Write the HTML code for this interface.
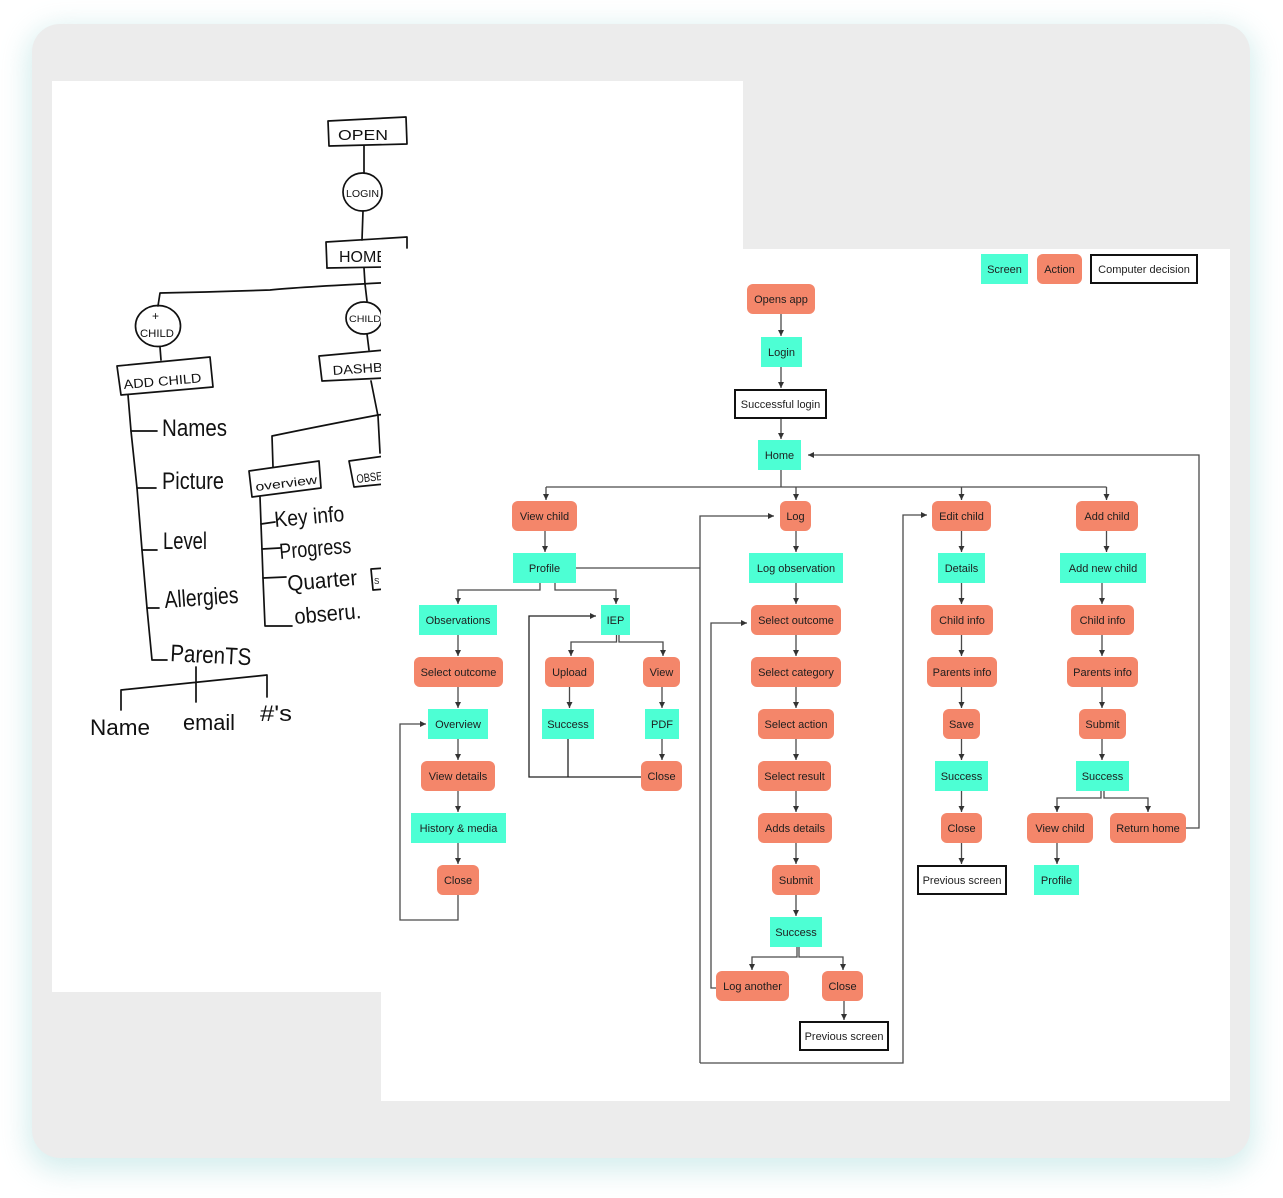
<!DOCTYPE html>
<html><head><meta charset="utf-8"><style>
html,body{margin:0;padding:0;background:#fff;width:1283px;height:1198px;overflow:hidden}
#card{position:absolute;left:32px;top:24px;width:1218px;height:1134px;background:#ececec;border-radius:28px;box-shadow:0 8px 28px 4px rgba(120,200,200,0.33)}
svg{position:absolute;left:0;top:0}
.n{font-family:"Liberation Sans",sans-serif;font-size:11px;fill:#1e1e1e;text-anchor:middle}
.h{font-family:"Liberation Sans",sans-serif;fill:#111}
.sk{stroke:#111;stroke-width:1.7;fill:none;stroke-linecap:round;stroke-linejoin:round}
.c{stroke:#4a4a4a;stroke-width:1.3;fill:none}
.s{fill:#4dffd4}
.a{fill:#f4866a}
.d{fill:#fff;stroke:#111;stroke-width:2}
</style></head><body>
<div id="card"></div>
<svg width="1283" height="1198" viewBox="0 0 1283 1198">
<defs>
<marker id="ar" markerWidth="6" markerHeight="6" refX="6" refY="3" orient="auto" markerUnits="userSpaceOnUse">
<path d="M0,0 L6,3 L0,6 z" fill="#333"/></marker>
</defs>
<!-- sketch paper -->
<rect x="52" y="81" width="691" height="911" fill="#fff"/>
<g class="sk">
<polygon points="328,121 406,117 407,144 329,146"/>
<line x1="364" y1="146" x2="364" y2="173"/>
<ellipse cx="362.5" cy="192" rx="19.5" ry="19"/>
<line x1="363" y1="211" x2="362" y2="240"/>
<path d="M327,268 L326,242 L407,237 L407,248"/>
<path d="M327,268 L385,267"/>
<path d="M364,268 L365,284 L367,301"/>
<path d="M400,282 Q300,287 270,290 Q210,292 160,293 L158,306"/>
<ellipse cx="364" cy="318" rx="18" ry="16"/>
<ellipse cx="158" cy="326" rx="22.5" ry="20.5"/>
<line x1="160" y1="347" x2="161" y2="360"/>
<polygon points="117,366 210,357 213,387 121,395"/>
<line x1="367" y1="334" x2="369" y2="350"/>
<path d="M385,350 L319,356 L322,381 L385,378"/>
<path d="M371,381 L378,416 L380,453"/>
<path d="M395,413 L378,415 Q320,426 272,436 L273,467"/>
<polygon points="249,471 319,461 321,488 252,497"/>
<path d="M385,456 L349,461 L354,487 L385,484"/>
<path d="M260,497 L261,524 L262,550 L263,578 L265,626 L292,626"/>
<path d="M261,524 L275,522 M262,549 L280,548 M263,578 L286,577"/>
<path d="M385,568 L371,569 L373,590 L385,589"/>
<path d="M128,395 L131,431 L137,488 L142,550 L147,608 L152,660 L167,660"/>
<path d="M131,431 L157,431 M137,488 L156,488 M142,550 L157,550 M147,608 L159,608"/>
<path d="M196,667 L196,702 M121,710 L121,690 L267,675 L267,697"/>
</g>
<g class="h">
<text x="338" y="140" font-size="15" textLength="50" lengthAdjust="spacingAndGlyphs">OPEN</text>
<text x="346" y="197" font-size="10" textLength="33" lengthAdjust="spacingAndGlyphs">LOGIN</text>
<text x="339" y="262" font-size="16" textLength="48" lengthAdjust="spacingAndGlyphs">HOME</text>
<text x="349" y="322" font-size="9" textLength="32" lengthAdjust="spacingAndGlyphs">CHILD</text>
<text x="152" y="320" font-size="12">+</text>
<text x="140" y="337" font-size="11" textLength="34" lengthAdjust="spacingAndGlyphs">CHILD</text>
<text x="124" y="389" font-size="13" textLength="78" lengthAdjust="spacingAndGlyphs" transform="rotate(-5 124 389)">ADD CHILD</text>
<text x="333" y="375" font-size="13" textLength="50" lengthAdjust="spacingAndGlyphs" transform="rotate(-4 333 375)">DASHB</text>
<text x="256" y="491" font-size="12" textLength="62" lengthAdjust="spacingAndGlyphs" transform="rotate(-7 256 491)">overview</text>
<text x="357" y="483" font-size="12" textLength="26" lengthAdjust="spacingAndGlyphs" transform="rotate(-7 357 483)">OBSE</text>
<text x="275" y="527" font-size="22" textLength="70" lengthAdjust="spacingAndGlyphs" transform="rotate(-5 275 527)">Key info</text>
<text x="280" y="559" font-size="22" textLength="72" lengthAdjust="spacingAndGlyphs" transform="rotate(-5 280 559)">Progress</text>
<text x="288" y="591" font-size="22" textLength="70" lengthAdjust="spacingAndGlyphs" transform="rotate(-5 288 591)">Quarter</text>
<text x="374" y="584" font-size="8">S</text>
<text x="295" y="624" font-size="22" textLength="67" lengthAdjust="spacingAndGlyphs" transform="rotate(-5 295 624)">obseru.</text>
<text x="162" y="436" font-size="24" textLength="65" lengthAdjust="spacingAndGlyphs">Names</text>
<text x="162" y="489" font-size="24" textLength="62" lengthAdjust="spacingAndGlyphs">Picture</text>
<text x="163" y="549" font-size="24" textLength="44" lengthAdjust="spacingAndGlyphs">Level</text>
<text x="165" y="608" font-size="24" textLength="74" lengthAdjust="spacingAndGlyphs" transform="rotate(-4 165 608)">Allergies</text>
<text x="170" y="661" font-size="24" textLength="81" lengthAdjust="spacingAndGlyphs" transform="rotate(3 170 661)">ParenTS</text>
<text x="90" y="735" font-size="22" textLength="60" lengthAdjust="spacingAndGlyphs">Name</text>
<text x="183" y="730" font-size="22" textLength="52" lengthAdjust="spacingAndGlyphs">email</text>
<text x="260" y="721" font-size="22" textLength="32" lengthAdjust="spacingAndGlyphs">#'s</text>
</g>

<!-- flow panel -->
<rect x="381" y="249" width="849" height="852" fill="#fff"/>

<!-- connectors -->
<g class="c">
<path d="M781,314 V336" marker-end="url(#ar)"/>
<path d="M781,367 V388" marker-end="url(#ar)"/>
<path d="M781,419 V439" marker-end="url(#ar)"/>
<path d="M781,470 V487 M546,487 H1106.5"/>
<path d="M546,487 V500" marker-end="url(#ar)"/>
<path d="M796,487 V500" marker-end="url(#ar)"/>
<path d="M961.5,487 V500" marker-end="url(#ar)"/>
<path d="M1106.5,487 V500" marker-end="url(#ar)"/>
<path d="M545,531 V552" marker-end="url(#ar)"/>
<path d="M540,583 V590 H458 V604" marker-end="url(#ar)"/>
<path d="M555,583 V590 H616 V604" marker-end="url(#ar)"/>
<path d="M576,568 H700"/>
<path d="M458,635 V656" marker-end="url(#ar)"/>
<path d="M458,687 V708" marker-end="url(#ar)"/>
<path d="M458,739 V760" marker-end="url(#ar)"/>
<path d="M458,791 V812" marker-end="url(#ar)"/>
<path d="M458,843 V864" marker-end="url(#ar)"/>
<path d="M458,895 V920 H400 V724 H426" marker-end="url(#ar)"/>
<path d="M616.5,635 V642 H571 V656" marker-end="url(#ar)"/>
<path d="M619,635 V642 H663 V656" marker-end="url(#ar)"/>
<path d="M569.5,687 V708" marker-end="url(#ar)"/>
<path d="M662,687 V708" marker-end="url(#ar)"/>
<path d="M662,739 V760" marker-end="url(#ar)"/>
<path d="M641,777 H529 V616 H596" marker-end="url(#ar)" stroke="#222"/>
<path d="M568,739 V777" stroke="#222"/>
<path d="M796,531 V552" marker-end="url(#ar)"/>
<path d="M796,583 V604" marker-end="url(#ar)"/>
<path d="M796,635 V656" marker-end="url(#ar)"/>
<path d="M796,687 V708" marker-end="url(#ar)"/>
<path d="M796,739 V760" marker-end="url(#ar)"/>
<path d="M796,791 V812" marker-end="url(#ar)"/>
<path d="M796,843 V864" marker-end="url(#ar)"/>
<path d="M796,895 V916" marker-end="url(#ar)"/>
<path d="M797,947 V957 H752 V970" marker-end="url(#ar)"/>
<path d="M799,947 V957 H843 V970" marker-end="url(#ar)"/>
<path d="M844,1001 V1020" marker-end="url(#ar)"/>
<path d="M716,988 H711 V623 H747" marker-end="url(#ar)"/>
<path d="M700,1063 V516 H774" marker-end="url(#ar)"/>
<path d="M700,1063 H903 V515 H927" marker-end="url(#ar)"/>
<path d="M961.5,531 V552" marker-end="url(#ar)"/>
<path d="M961.5,583 V604" marker-end="url(#ar)"/>
<path d="M961.5,635 V656" marker-end="url(#ar)"/>
<path d="M961.5,687 V708" marker-end="url(#ar)"/>
<path d="M961.5,739 V760" marker-end="url(#ar)"/>
<path d="M961.5,791 V812" marker-end="url(#ar)"/>
<path d="M961.5,843 V864" marker-end="url(#ar)"/>
<path d="M1106.5,531 V552" marker-end="url(#ar)"/>
<path d="M1102,583 V604" marker-end="url(#ar)"/>
<path d="M1102,635 V656" marker-end="url(#ar)"/>
<path d="M1102,687 V708" marker-end="url(#ar)"/>
<path d="M1102,739 V760" marker-end="url(#ar)"/>
<path d="M1101,791 V798 H1057 V812" marker-end="url(#ar)"/>
<path d="M1104,791 V798 H1148 V812" marker-end="url(#ar)"/>
<path d="M1057,843 V864" marker-end="url(#ar)"/>
<path d="M1186,828 H1199 V455 H808" marker-end="url(#ar)"/>
</g>

<!-- legend -->
<rect class="s" x="981" y="254" width="47" height="30"/><text class="n" x="1004.5" y="273">Screen</text>
<rect class="a" x="1037" y="254" width="45" height="30" rx="6"/><text class="n" x="1059.5" y="273">Action</text>
<rect class="d" x="1091" y="255" width="106" height="28"/><text class="n" x="1144" y="273">Computer decision</text>

<!-- main column -->
<rect class="a" x="747" y="284" width="68" height="30" rx="6"/><text class="n" x="781" y="303">Opens app</text>
<rect class="s" x="761" y="337" width="41" height="30"/><text class="n" x="781.5" y="356">Login</text>
<rect class="d" x="735" y="390" width="91" height="28"/><text class="n" x="780.5" y="408">Successful login</text>
<rect class="s" x="758" y="440" width="43" height="30"/><text class="n" x="779.5" y="459">Home</text>

<!-- view child column -->
<rect class="a" x="512" y="501" width="65" height="30" rx="6"/><text class="n" x="544.5" y="520">View child</text>
<rect class="s" x="513" y="553" width="63" height="30"/><text class="n" x="544.5" y="572">Profile</text>
<rect class="s" x="419" y="605" width="78" height="30"/><text class="n" x="458" y="624">Observations</text>
<rect class="s" x="601" y="605" width="29" height="30"/><text class="n" x="615.5" y="624">IEP</text>
<rect class="a" x="414" y="657" width="89" height="30" rx="6"/><text class="n" x="458.5" y="676">Select outcome</text>
<rect class="a" x="545" y="657" width="49" height="30" rx="6"/><text class="n" x="569.5" y="676">Upload</text>
<rect class="a" x="643" y="657" width="37" height="30" rx="6"/><text class="n" x="661.5" y="676">View</text>
<rect class="s" x="428" y="709" width="60" height="30"/><text class="n" x="458" y="728">Overview</text>
<rect class="s" x="542" y="709" width="52" height="30"/><text class="n" x="568" y="728">Success</text>
<rect class="s" x="645" y="709" width="34" height="30"/><text class="n" x="662" y="728">PDF</text>
<rect class="a" x="421" y="761" width="74" height="30" rx="6"/><text class="n" x="458" y="780">View details</text>
<rect class="a" x="641" y="761" width="41" height="30" rx="6"/><text class="n" x="661.5" y="780">Close</text>
<rect class="s" x="411" y="813" width="95" height="30"/><text class="n" x="458.5" y="832">History &amp; media</text>
<rect class="a" x="437" y="865" width="42" height="30" rx="6"/><text class="n" x="458" y="884">Close</text>

<!-- log column -->
<rect class="a" x="780" y="501" width="31" height="30" rx="6"/><text class="n" x="795.5" y="520">Log</text>
<rect class="s" x="749" y="553" width="94" height="30"/><text class="n" x="796" y="572">Log observation</text>
<rect class="a" x="751" y="605" width="90" height="30" rx="6"/><text class="n" x="796" y="624">Select outcome</text>
<rect class="a" x="751" y="657" width="90" height="30" rx="6"/><text class="n" x="796" y="676">Select category</text>
<rect class="a" x="758" y="709" width="76" height="30" rx="6"/><text class="n" x="796" y="728">Select action</text>
<rect class="a" x="758" y="761" width="73" height="30" rx="6"/><text class="n" x="794.5" y="780">Select result</text>
<rect class="a" x="758" y="813" width="74" height="30" rx="6"/><text class="n" x="795" y="832">Adds details</text>
<rect class="a" x="772" y="865" width="48" height="30" rx="6"/><text class="n" x="796" y="884">Submit</text>
<rect class="s" x="770" y="917" width="52" height="30"/><text class="n" x="796" y="936">Success</text>
<rect class="a" x="716" y="971" width="73" height="30" rx="6"/><text class="n" x="752.5" y="990">Log another</text>
<rect class="a" x="822" y="971" width="41" height="30" rx="6"/><text class="n" x="842.5" y="990">Close</text>
<rect class="d" x="800" y="1022" width="88" height="28"/><text class="n" x="844" y="1040">Previous screen</text>

<!-- edit column -->
<rect class="a" x="932" y="501" width="59" height="30" rx="6"/><text class="n" x="961.5" y="520">Edit child</text>
<rect class="s" x="938" y="553" width="47" height="30"/><text class="n" x="961.5" y="572">Details</text>
<rect class="a" x="931" y="605" width="62" height="30" rx="6"/><text class="n" x="962" y="624">Child info</text>
<rect class="a" x="927" y="657" width="70" height="30" rx="6"/><text class="n" x="962" y="676">Parents info</text>
<rect class="a" x="943" y="709" width="37" height="30" rx="6"/><text class="n" x="961.5" y="728">Save</text>
<rect class="s" x="935" y="761" width="53" height="30"/><text class="n" x="961.5" y="780">Success</text>
<rect class="a" x="941" y="813" width="41" height="30" rx="6"/><text class="n" x="961.5" y="832">Close</text>
<rect class="d" x="918" y="866" width="88" height="28"/><text class="n" x="962" y="884">Previous screen</text>

<!-- add column -->
<rect class="a" x="1076" y="501" width="62" height="30" rx="6"/><text class="n" x="1107" y="520">Add child</text>
<rect class="s" x="1060" y="553" width="86" height="30"/><text class="n" x="1103" y="572">Add new child</text>
<rect class="a" x="1071" y="605" width="63" height="30" rx="6"/><text class="n" x="1102.5" y="624">Child info</text>
<rect class="a" x="1067" y="657" width="71" height="30" rx="6"/><text class="n" x="1102.5" y="676">Parents info</text>
<rect class="a" x="1079" y="709" width="47" height="30" rx="6"/><text class="n" x="1102.5" y="728">Submit</text>
<rect class="s" x="1076" y="761" width="53" height="30"/><text class="n" x="1102.5" y="780">Success</text>
<rect class="a" x="1027" y="813" width="66" height="30" rx="6"/><text class="n" x="1060" y="832">View child</text>
<rect class="a" x="1110" y="813" width="76" height="30" rx="6"/><text class="n" x="1148" y="832">Return home</text>
<rect class="s" x="1034" y="865" width="45" height="30"/><text class="n" x="1056.5" y="884">Profile</text>
</svg>
</body></html>
